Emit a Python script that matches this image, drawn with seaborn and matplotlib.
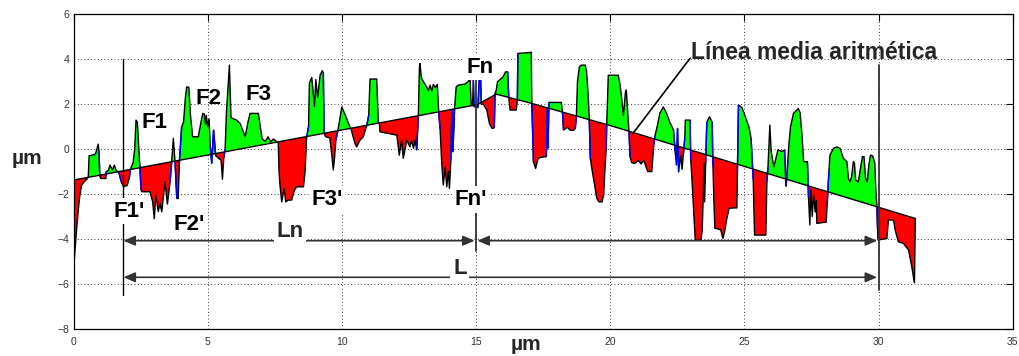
import numpy as np
import matplotlib
matplotlib.use("Agg")
import matplotlib.pyplot as plt
import seaborn as sns
from matplotlib.collections import LineCollection

# ---------------- data ----------------
profile_x = [0.00, 0.05, 0.12, 0.22, 0.30, 0.49, 0.55, 0.58, 0.77, 0.82, 0.86, 0.92, 0.95, 0.98,
             1.02, 1.20, 1.22, 1.30, 1.36, 1.45, 1.52, 1.60, 1.68, 1.78, 1.86, 2.00, 2.08, 2.12,
             2.22, 2.28, 2.33, 2.38, 2.46, 2.52, 2.55, 2.85, 2.95, 3.01, 3.07, 3.16, 3.22, 3.29,
             3.41, 3.50, 3.60, 3.66, 3.72, 3.78, 3.85, 3.90, 3.95, 4.03, 4.10, 4.17, 4.22, 4.30,
             4.36, 4.44, 4.65, 4.75, 4.82, 4.88, 4.92, 4.95, 5.00, 5.05, 5.10, 5.15, 5.22, 5.30,
             5.50, 5.55, 5.60, 5.65, 5.70, 5.81, 5.87, 6.08, 6.21, 6.40, 6.50, 6.58, 6.89, 7.03,
             7.15, 7.25, 7.35, 7.45, 7.57, 7.63, 7.66, 7.70, 7.76, 7.85, 7.91, 8.01, 8.13, 8.23,
             8.32, 8.57, 8.63, 8.69, 8.76, 8.79, 8.88, 8.98, 9.03, 9.10, 9.19, 9.27, 9.31, 9.34,
             9.40, 9.55, 9.62, 9.68, 9.72, 9.78, 9.85, 9.92, 10.00, 10.15, 10.30, 10.34, 10.37,
             10.49, 10.55, 10.68, 10.80, 10.93, 11.00, 11.05, 11.30, 11.36, 11.40, 11.42, 12.05,
             12.14, 12.23, 12.29, 12.42, 12.54, 12.60, 12.67, 12.73, 12.79, 12.85, 12.89, 12.91,
             12.97, 13.16, 13.22, 13.29, 13.35, 13.41, 13.48, 13.56, 13.61, 13.66, 13.72, 13.78,
             13.85, 13.91, 13.97, 14.01, 14.06, 14.10, 14.14, 14.20, 14.26, 14.34, 14.59, 14.70,
             14.78, 14.82, 14.87, 14.90, 14.93, 15.00, 15.07, 15.12, 15.17, 15.20, 15.27, 15.40,
             15.50, 15.60, 15.68, 15.71, 15.75, 15.80, 16.00, 16.10, 16.18, 16.22, 16.27, 16.50,
             16.54, 16.56, 17.06, 17.08, 17.14, 17.22, 17.32, 17.50, 17.62, 17.66, 17.68, 17.72,
             18.18, 18.22, 18.26, 18.40, 18.50, 18.62, 18.70, 18.74, 18.78, 18.85, 18.93, 19.07,
             19.12, 19.18, 19.22, 19.26, 19.32, 19.42, 19.50, 19.58, 19.70, 19.76, 19.80, 19.85,
             19.87, 19.93, 20.30, 20.37, 20.43, 20.49, 20.53, 20.57, 20.60, 20.64, 20.70, 20.74,
             20.80, 20.92, 21.05, 21.15, 21.25, 21.40, 21.55, 21.62, 21.67, 21.75, 21.85, 21.98,
             22.10, 22.22, 22.36, 22.42, 22.47, 22.51, 22.55, 22.62, 22.68, 22.73, 22.78, 22.80,
             22.98, 23.00, 23.04, 23.10, 23.17, 23.38, 23.43, 23.47, 23.49, 23.52, 23.56, 23.60,
             23.70, 23.80, 23.83, 23.87, 23.90, 24.00, 24.12, 24.20, 24.26, 24.33, 24.43, 24.60,
             24.72, 24.74, 24.78, 24.91, 25.05, 25.17, 25.25, 25.33, 25.38, 25.80, 25.84, 25.88,
             25.95, 26.00, 26.10, 26.25, 26.40, 26.50, 26.55, 26.58, 26.62, 26.66, 26.72, 26.83,
             26.95, 27.01, 27.08, 27.15, 27.21, 27.35, 27.39, 27.44, 27.48, 27.53, 27.58, 27.64,
             27.68, 27.70, 28.05, 28.09, 28.15, 28.19, 28.32, 28.44, 28.57, 28.69, 28.82, 28.88,
             28.94, 29.00, 29.06, 29.10, 29.15, 29.25, 29.32, 29.40, 29.46, 29.52, 29.58, 29.64,
             29.70, 29.78, 29.86, 29.90, 29.94, 29.96, 29.98, 30.31, 30.37, 30.56, 30.62, 30.74,
             30.93, 31.12, 31.18, 31.24, 31.30, 31.34, 31.37]
profile_y = [-5.50, -4.60, -3.50, -2.20, -1.60, -1.34, -1.25, -0.30, -0.25, -0.20, -0.05, 0.22, -0.10, -1.20,
             -1.31, -1.31, -1.00, -0.95, -0.71, -0.93, -0.71, -0.98, -1.00, -1.46, -1.68, -1.62, -1.30, -0.90,
             -0.60, 0.00, 1.29, 1.20, -0.56, -1.83, -1.90, -1.90, -2.35, -3.10, -2.05, -2.79, -2.42, -2.79,
             -1.45, -2.45, -1.45, -0.55, 0.48, -0.50, -2.20, -2.20, -0.50, 0.99, 1.20, 2.30, 2.77, 2.75,
             1.50, 0.55, 0.55, 1.20, 1.59, 1.55, 1.10, 1.50, 1.00, 1.35, 0.10, -0.63, 0.85, -0.30,
             -0.50, -1.34, -0.40, 0.00, 1.66, 3.74, 1.40, 1.29, 1.14, 0.55, 1.20, 1.59, 1.59, 0.45,
             0.35, 0.55, 0.33, 0.45, 0.33, 0.30, -1.00, -1.68, -2.35, -1.75, -2.35, -2.27, -2.27, -1.83,
             -1.68, -1.68, -1.00, 0.56, 1.00, 2.94, 3.19, 1.90, 3.10, 2.30, 3.30, 3.49, 3.40, 0.70,
             0.55, 0.50, -0.20, -0.93, -0.50, 0.40, 0.82, 1.30, 1.88, 1.45, 1.00, 0.93, 0.77,
             0.25, 0.10, 0.40, 0.55, 1.06, 1.50, 3.12, 3.12, 1.20, 1.13, 0.77, 0.62,
             -0.27, 0.40, -0.41, 0.40, 0.10, 0.40, 0.03, 0.40, -0.04, 1.49, 3.60, 3.81,
             3.15, 2.77, 2.60, 2.85, 2.60, 2.88, 2.75, 2.88, 1.66, 0.90, -0.56, -1.60,
             -0.80, -1.68, -1.00, -1.75, -0.56, 1.77, -0.12, 1.80, 2.77, 2.85, 2.90, 3.00,
             3.12, 1.95, 1.94, 3.10, 1.90, 1.85, 1.85, 3.15, 3.15, 2.00, 2.00, 1.75,
             1.14, 0.92, 0.95, 2.48, 2.60, 3.00, 3.20, 3.44, 3.44, 2.30, 1.74, 1.74,
             2.18, 4.26, 4.31, 2.04, -0.56, -0.86, -0.40, -0.35, -0.34, 1.85, 0.04, 2.08,
             2.08, 1.67, 0.85, 0.97, 0.85, 0.83, 0.92, 1.48, 3.00, 3.66, 3.74, 3.74,
             3.45, 2.40, 1.32, -0.41, -0.90, -1.60, -2.19, -2.35, -2.35, -2.00, -1.00, 0.00,
             1.10, 3.29, 3.29, 2.85, 2.26, 1.51, 2.00, 2.55, 2.63, 1.90, 0.80, -0.34,
             -0.60, -0.64, -0.50, -0.66, -0.50, -1.00, -1.00, 0.15, 0.60, 1.00, 1.60, 1.88,
             1.60, 1.20, 0.85, -0.10, -0.71, 0.92, -1.01, -0.30, -0.90, -0.20, 0.50, 1.29,
             1.29, -0.45, -1.20, -2.50, -4.05, -4.05, -3.60, -2.00, -0.62, -2.35, -0.60, 1.20,
             1.44, 1.20, -0.77, -2.50, -3.53, -3.55, -3.60, -3.98, -3.70, -3.20, -2.64, -2.62,
             -2.62, -1.08, 1.96, 1.85, 1.40, 0.99, 0.50, -1.38, -3.83, -3.83, -1.46, -0.80,
             1.07, -0.10, -0.79, -0.04, -0.10, -0.04, -1.65, -1.38, -0.50, 0.20, 1.00, 1.59,
             1.74, 1.81, 1.60, 0.60, -0.56, -0.56, -2.14, -3.38, -1.80, -3.00, -2.00, -2.80,
             -2.30, -3.31, -3.25, -2.40, -1.00, -0.27, 0.03, 0.10, 0.03, -0.41, -0.56, -1.31,
             -1.46, -1.20, -0.56, -0.60, -1.38, -1.46, -0.90, -0.34, -0.34, -1.31, -1.46, -0.70,
             -0.27, -0.30, -0.60, -1.80, -2.55, -3.46, -4.05, -3.98, -3.16, -3.16, -3.61, -4.13,
             -4.20, -4.50, -4.87, -5.24, -5.69, -5.95, -3.09]

mean_x = [0.0, 15.05, 15.75, 17.0, 20.0, 31.37]
mean_y = [-1.38, 1.98, 2.45, 2.06, 1.05, -3.09]

x_ticks = [0, 5, 10, 15, 20, 25, 30, 35]
y_ticks = [-8, -6, -4, -2, 0, 2, 4, 6]

peak_labels = ["F1", "F2", "F3", "F1'", "F2'", "F3'", "Fn", "Fn'"]
peak_label_x = [3.01, 5.04, 6.89, 2.07, 4.31, 9.44, 15.15, 14.81]
peak_label_y = [0.95, 2.03, 2.18, -3.01, -3.61, -2.49, 3.40, -2.49]

vline_x = [1.86, 15.0, 30.0]
vline_top = [4.0, 4.0, 3.74]
vline_bottom = [-6.5, -4.55, -6.28]

ln_arrow_y = -4.08
l_arrow_y = -5.71
ln_spans = [(1.86, 14.95), (15.05, 29.95)]
l_span = (1.86, 29.95)

mean_label = "Línea media aritmética"
mean_label_xy = (23.03, 4.0)
mean_pointer_xy = (20.85, 0.70)

# ---------------- drawing ----------------
sns.set_theme(style="white")
plt.rcParams['font.family'] = ['Liberation Sans', 'DejaVu Sans']

fig = plt.figure(figsize=(10.19, 3.56), dpi=100)
ax = fig.add_axes([73.5 / 1019, 1 - 328.7 / 356, (1012.7 - 73.5) / 1019, (328.7 - 14.4) / 356])

px = np.array(profile_x)
py = np.array(profile_y)
xs = np.union1d(px, np.array(mean_x))
ys = np.interp(xs, px, py)
ms = np.interp(xs, mean_x, mean_y)

ax.fill_between(xs, ys, ms, where=ys >= ms, interpolate=True,
                facecolor="#00ff00", edgecolor="none", zorder=2)
ax.fill_between(xs, ys, ms, where=ys <= ms, interpolate=True,
                facecolor="#ff0000", edgecolor="none", zorder=2)

# profile: black outline, blue where it crosses the mean line
mp = np.interp(px, mean_x, mean_y)
d = py - mp
segs = np.stack([np.column_stack([px[:-1], py[:-1]]), np.column_stack([px[1:], py[1:]])], axis=1)
cross = (d[:-1] * d[1:]) < 0
sns.lineplot(x=px, y=py, sort=False, estimator=None, color="black", lw=1.0, ax=ax, zorder=3)
lc = LineCollection(segs[cross], colors="#0000ff", linewidths=1.0, zorder=4)
ax.add_collection(lc)

ax.plot(mean_x, mean_y, color="black", lw=1.0, zorder=4)

# annotation lines
for vx, vt, vb in zip(vline_x, vline_top, vline_bottom):
    ax.plot([vx, vx], [vb, vt], color="#333333" if vx != vline_x[0] else "black",
            lw=1.0 if vx == vline_x[0] else 1.3, zorder=5)

astyle = "<|-|>,head_length=0.7,head_width=0.3"
for a, b in ln_spans:
    ax.annotate("", xy=(a, ln_arrow_y), xytext=(b, ln_arrow_y),
                arrowprops=dict(arrowstyle=astyle, color="#333333", lw=1.2,
                                mutation_scale=10, shrinkA=0, shrinkB=0), zorder=5)
ax.annotate("", xy=(l_span[0], l_arrow_y), xytext=(l_span[1], l_arrow_y),
            arrowprops=dict(arrowstyle=astyle, color="#333333", lw=1.2,
                            mutation_scale=10, shrinkA=0, shrinkB=0), zorder=5)

box = dict(facecolor="white", edgecolor="none", pad=2)
for t, tx, ty in zip(peak_labels, peak_label_x, peak_label_y):
    ax.text(tx, ty, t, ha="center", va="baseline", fontsize=16, fontweight="bold", color="black",
            bbox=box if ("'" in t or t == "Fn") else None, zorder=6)
ax.text(8.06, -3.90, "Ln", ha="center", va="baseline", fontsize=16, fontweight="bold", bbox=box, zorder=6)
ax.text(14.4, -5.58, "L", ha="center", va="baseline", fontsize=16, fontweight="bold", bbox=box, zorder=6)

ax.plot([mean_label_xy[0] - 0.05, mean_pointer_xy[0]], [mean_label_xy[1] + 0.05, mean_pointer_xy[1]],
        color="black", lw=1.2, zorder=6)
ax.text(mean_label_xy[0], mean_label_xy[1], mean_label, ha="left", va="baseline",
        fontsize=16.5, fontweight="bold", zorder=6)

ax.set_xlim(0, 35)
ax.set_ylim(-8, 6)
ax.set_xticks(x_ticks)
ax.set_yticks(y_ticks)
ax.set_xlabel("")
ax.set_ylabel("")
ax.set_axisbelow(True)
ax.grid(True, color="black", linestyle=(0, (1, 3)), linewidth=0.6)
ax.tick_params(direction="in", length=5, width=0.8, top=True, right=True,
               labelsize=7.5, labelcolor="#333333", color="black")
ax.tick_params(axis="x", pad=6)
ax.tick_params(axis="y", pad=3)
for s in ax.spines.values():
    s.set_color("black")
    s.set_linewidth(0.9)

fig.text(27 / 1019, 1 - 158 / 356, "µm", ha="center", va="center", fontsize=15, fontweight="bold")
fig.text(526 / 1019, 1 - 350 / 356, "µm", ha="center", va="baseline", fontsize=15, fontweight="bold")

fig.savefig("out.png", dpi=100)
